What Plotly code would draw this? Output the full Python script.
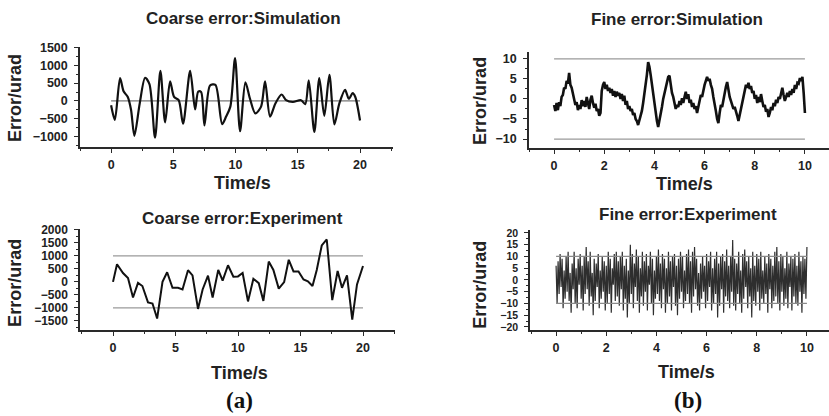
import plotly.graph_objects as go

W, H = 829, 416

# ---------------- data ----------------
coarse_sim_t = [0, 0.3, 0.72, 1.0, 1.34, 1.6, 1.87, 2.3, 2.73, 3.08, 3.53, 3.96, 4.34, 4.74,
                5.06, 5.43, 5.78, 6.35, 6.75, 7.0, 7.23, 7.5, 7.95, 8.38, 8.92, 9.24, 9.58,
                9.96, 10.36, 10.79, 11.16, 11.59, 12.05, 12.37, 12.77, 13.2, 13.7, 14.06,
                14.6, 15.26, 15.6, 15.88, 16.33, 16.73, 17.13, 17.54, 17.94, 18.34, 18.8,
                19.1, 19.41, 19.62, 20.0]
coarse_sim_v = [-120, -530, 640, 270, 110, -250, -980, -70, 650, 470, -1030, 840, -600, 550,
                110, 20, -640, 840, -240, 260, 250, -690, 430, 450, -650, -440, -160,
                1200, -850, 520, 60, -350, -160, 550, -440, -70, 180, 20,
                -30, 20, -90, 580, -870, 640, -420, 730, -660, -70, 310,
                60, 220, 110, -550]
coarse_sim_ref = [0, 0]

coarse_exp_t = [0, 0.32, 0.8, 1.2, 1.6, 2.0, 2.35, 2.8, 3.16, 3.53, 3.96, 4.33, 4.76, 5.2,
                5.56, 6.0, 6.36, 6.8, 7.17, 7.6, 7.97, 8.42, 8.77, 9.2, 9.63, 10.0, 10.37,
                10.8, 11.23, 11.66, 12.03, 12.46, 12.83, 13.26, 13.69, 14.06, 14.44, 14.84,
                15.24, 15.59, 15.96, 16.3, 16.7, 17.1, 17.54, 17.97, 18.32, 18.72, 19.14,
                19.52, 20.0]
coarse_exp_v = [0, 680, 340, 150, -600, -40, -160, -790, -830, -1410, 0, 370, -230, -230,
                -290, 450, 250, -1040, -290, 240, -600, 460, 50, 640, 200, 210, 340,
                -750, 120, -50, -730, 780, 460, -260, -10, 850, 400, 400,
                90, 20, -160, 460, 1400, 1630, -700, 420, -230, 250, -1450,
                -100, 610]
coarse_exp_limits = [-1000, 1000]

fine_sim_dt = 0.05
fine_sim_v = [
    -1.5, -3.0, -1.0, -2.8, -0.8, -1.8, 0.5, 1.0, 2.8, 2.5,
    4.5, 3.8, 6.5, 3.5, 2.8, 1.0, 0.2, -1.5, -0.8, -2.8,
    -1.5, -2.5, -0.3, -1.8, -0.5, -2.0, 0.5, -1.5, -2.5, -0.2,
    0.8, -1.0, -2.2, -1.2, -3.0, -2.5, -4.2, -3.5, 2.0, 3.5,
    4.2, 2.5, 3.5, 2.0, 2.8, 1.5, 2.5, 0.8, 2.0, 0.5,
    1.8, 0.8, 1.5, 0.0, 1.2, -0.5, 0.8, -1.5, -0.5, -2.5,
    -1.8, -3.0, -2.5, -4.0, -3.5, -5.0, -5.5, -6.5, -5.5, -4.0,
    -3.0, -1.0, 1.0, 3.5, 6.0, 9.2, 8.0, 6.0, 3.5, 1.0,
    -1.5, -3.5, -5.5, -7.0, -5.5, -3.5, -2.0, 0.0, 1.5, 3.0,
    4.0, 5.5, 5.8, 3.5, 1.5, 0.5, -1.0, -2.5, -1.5, -2.0,
    -0.5, -1.5, 0.2, -1.0, 0.5, 1.8, 0.0, 1.2, -1.0, -0.2,
    -2.0, -1.0, -2.5, -1.8, -3.5, -2.0, -0.5, 1.0, 0.5, 2.5,
    3.5, 4.5, 5.5, 4.5, 5.0, 3.5, 2.5, 0.5, -1.0, -3.0,
    -5.0, -6.0, -3.5, -1.5, -2.0, 0.0, 1.5, 3.0, 4.2, 2.0,
    0.5, -0.5, -1.5, -2.5, -2.0, -3.5, -4.2, -5.5, -4.0, -2.5,
    -1.0, 0.5, 2.5, 3.5, 2.8, 4.0, 2.5, 3.2, 1.5, 2.0,
    0.0, 1.0, -1.0, 0.5, -0.8, 1.2, -0.5, -2.0, -1.5, -3.2,
    -2.5, -4.5, -3.5, -2.0, -2.8, -1.0, -1.8, -0.2, -1.0, 0.5,
    0.0, 1.5, 2.8, 1.0, -0.5, 0.5, 1.5, 0.5, 2.0, 1.0,
    2.5, 1.5, 3.5, 2.5, 4.0, 3.8, 5.2, 4.5, 5.5, 1.5,
    -3.5]
fine_sim_limits = [-10, 10]

fine_exp_dt = 0.04
fine_exp_v = [
    6, -10, 8, -6, 11, -3, 9, -12, 4, -8,
    10, -5, 12, -9, 3, -14, 7, -4, 12, -10,
    5, -12, 9, -2, 11, -8, 6, -13, 10, -6,
    14, -4, 8, -11, 12, -7, 3, -15, 9, -9,
    7, -3, 11, -12, 4, -8, 10, -5, 8, -13,
    6, -10, 12, -6, 9, -14, 5, -2, 11, -9,
    12, -7, 8, -11, 10, -4, 12, -13, 6, -8,
    9, -16, 4, -10, 15, -6, 11, -12, 7, -3,
    13, -9, 10, -14, 5, -7, 12, -11, 8, -5,
    11, -13, 6, -2, 12, -10, 9, -15, 4, -8,
    10, -6, 13, -9, 7, -12, 11, -4, 9, -14,
    5, -10, 12, -7, 8, -13, 10, -3, 11, -11,
    6, -15, 9, -8, 12, -5, 10, -12, 4, -9,
    11, -6, 13, -10, 8, -14, 12, -7, 14, -4,
    9, -11, 3, -13, 7, -8, 10, -5, 6, -12,
    11, -9, 8, -3, 12, -13, 5, -10, 9, -6,
    12, -16, 7, -11, 10, -4, 11, -14, 8, -7,
    13, -9, 6, -12, 10, -5, 17, -11, 9, -13,
    7, -6, 12, -10, 4, -14, 11, -8, 13, -3,
    8, -12, 10, -7, 5, -16, 12, -9, 6, -11,
    11, -5, 9, -13, 12, -8, 4, -10, 10, -6,
    7, -14, 11, -4, 9, -12, 6, -9, 12, -7,
    14, -10, 8, -13, 11, -5, 10, -11, 5, -8,
    12, -12, 7, -3, 10, -13, 9, -7, 11, -10,
    6, -11, 12, -5, 8, -14, 10, -6, 9, -8,
    14]
fine_exp_limits = [-10, 10]

coarse_span = [0, 20]
fine_span = [0, 10]

titles = ["Coarse error:Simulation", "Fine error:Simulation",
          "Coarse error:Experiment", "Fine error:Experiment"]
x_title = "Time/s"
y_title = "Error/urad"
panel_labels = ["(a)", "(b)"]

fine_sim_t = [round(i * fine_sim_dt, 3) for i in range(len(fine_sim_v))]
fine_exp_t = [round(i * fine_exp_dt, 3) for i in range(len(fine_exp_v))]

# ---------------- layout helpers ----------------
def px_x(p):
    return p / W

def px_y(p):
    return 1 - p / H

SANS = "Liberation Sans, Arial, sans-serif"
SERIF = "Liberation Serif, Times New Roman, serif"
AX_COL = "#2a2a2a"

fig = go.Figure()

# panels: (axis suffix, x px domain, y px domain (top,bottom), xrange, yrange, xdtick, ydtick, ytick font)
panels = [
    ("", (80, 393), (42, 144), [-2.5, 22.65], [-1290, 1510], 5, 500, 12.5),
    ("2", (529, 829), (47, 145), [-1.0, 10.96], [-12.2, 11.7], 2, 5, 12.5),
    ("3", (80, 395), (228, 331), [-2.64, 22.56], [-1843, 2030], 5, 500, 12),
    ("4", (530, 829), (229, 331), [-1.04, 10.88], [-21.25, 21.25], 2, 5, 10.5),
]

layout_axes = {}
for suf, (xl, xr), (yt, yb), xrng, yrng, xd, yd, yfs in panels:
    xa = dict(domain=[px_x(xl), px_x(xr)], range=xrng, anchor="y" + suf,
              showline=True, linecolor=AX_COL, linewidth=1.5,
              ticks="outside", ticklen=4, tickwidth=1.2, tickcolor=AX_COL,
              dtick=xd, tick0=0, showgrid=False, zeroline=False,
              tickfont=dict(family=SANS, size=12.5, color="#222", weight="bold"),
              minor=dict(dtick=xd / 2, tick0=0, ticks="outside", ticklen=2.5,
                         tickcolor=AX_COL, showgrid=False),
              ticklabelstandoff=1)
    ya = dict(domain=[px_y(yb), px_y(yt)], range=yrng, anchor="x" + suf,
              showline=True, linecolor=AX_COL, linewidth=1.5,
              ticks="outside", ticklen=4, tickwidth=1.2, tickcolor=AX_COL,
              dtick=yd, tick0=0, showgrid=False, zeroline=False,
              tickfont=dict(family=SANS, size=yfs, color="#222", weight="bold"),
              minor=dict(dtick=yd / 2, tick0=0, ticks="outside", ticklen=2.5,
                         tickcolor=AX_COL, showgrid=False),
              ticklabelstandoff=4)
    layout_axes["xaxis" + suf] = xa
    layout_axes["yaxis" + suf] = ya

# ---------------- traces ----------------
# Coarse simulation
fig.add_trace(go.Scatter(x=coarse_span, y=coarse_sim_ref, mode="lines",
                         line=dict(color="#555", width=1), xaxis="x", yaxis="y",
                         showlegend=False, hoverinfo="skip"))
fig.add_trace(go.Scatter(x=coarse_sim_t, y=coarse_sim_v, mode="lines",
                         line=dict(color="#111", width=2.2, shape="spline", smoothing=0.8),
                         xaxis="x", yaxis="y", showlegend=False))

# Fine simulation
for lim in fine_sim_limits:
    fig.add_trace(go.Scatter(x=fine_span, y=[lim, lim], mode="lines",
                             line=dict(color="#9a9a9a", width=1.2), xaxis="x2", yaxis="y2",
                             showlegend=False, hoverinfo="skip"))
fig.add_trace(go.Scatter(x=fine_sim_t, y=fine_sim_v, mode="lines",
                         line=dict(color="#111", width=2.6),
                         xaxis="x2", yaxis="y2", showlegend=False))

# Coarse experiment
for lim in coarse_exp_limits:
    fig.add_trace(go.Scatter(x=coarse_span, y=[lim, lim], mode="lines",
                             line=dict(color="#9a9a9a", width=1.2), xaxis="x3", yaxis="y3",
                             showlegend=False, hoverinfo="skip"))
fig.add_trace(go.Scatter(x=coarse_exp_t, y=coarse_exp_v, mode="lines",
                         line=dict(color="#111", width=2),
                         xaxis="x3", yaxis="y3", showlegend=False))

# Fine experiment
fig.add_trace(go.Scatter(x=fine_exp_t, y=fine_exp_v, mode="lines",
                         line=dict(color="#2e2e2e", width=1.2),
                         xaxis="x4", yaxis="y4", showlegend=False))
for lim in fine_exp_limits:
    fig.add_trace(go.Scatter(x=fine_span, y=[lim, lim], mode="lines",
                             line=dict(color="#8a8a8a", width=1.2), xaxis="x4", yaxis="y4",
                             showlegend=False, hoverinfo="skip"))

# ---------------- text ----------------
ann = []
title_pos = [(243, 13), (677, 14), (242, 217), (688, 213)]
for t, (px, py) in zip(titles, title_pos):
    ann.append(dict(text=t, x=px_x(px), y=px_y(py), xref="paper", yref="paper",
                    xanchor="center", yanchor="middle", showarrow=False,
                    font=dict(family=SANS, size=17, color="#222", weight="bold")))
xt_pos = [(242, 181), (684, 182), (239, 375), (686, 374)]
for (px, py) in xt_pos:
    ann.append(dict(text=x_title, x=px_x(px), y=px_y(py), xref="paper", yref="paper",
                    xanchor="center", yanchor="middle", showarrow=False,
                    font=dict(family=SANS, size=18, color="#222", weight="bold")))
yt_pos = [(15, 94), (480, 97), (15, 283), (480, 285)]
for (px, py) in yt_pos:
    ann.append(dict(text=y_title, x=px_x(px), y=px_y(py), xref="paper", yref="paper",
                    xanchor="center", yanchor="middle", showarrow=False, textangle=-90,
                    font=dict(family=SANS, size=18, color="#222", weight="bold")))
for lab, (px, py) in zip(panel_labels, [(239, 403), (688, 403)]):
    ann.append(dict(text=lab, x=px_x(px), y=px_y(py), xref="paper", yref="paper",
                    xanchor="center", yanchor="middle", showarrow=False,
                    font=dict(family=SERIF, size=23, color="#111", weight="bold")))

fig.update_layout(width=W, height=H, margin=dict(l=0, r=0, t=0, b=0),
                  paper_bgcolor="white", plot_bgcolor="white",
                  showlegend=False, annotations=ann, **layout_axes)

fig.write_html("out.html", config={"displayModeBar": False},
               post_script="document.body.style.margin='0';")
